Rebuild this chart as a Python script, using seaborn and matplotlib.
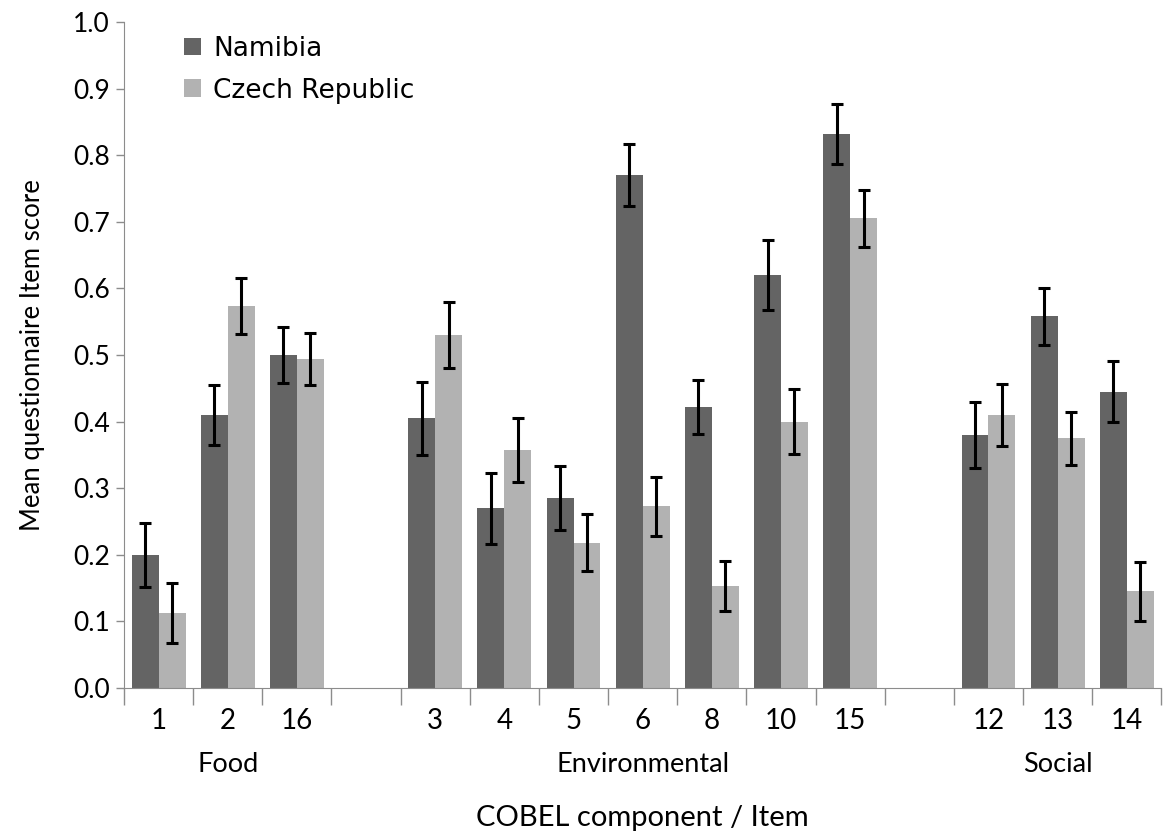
import numpy as np
import pandas as pd
import matplotlib
matplotlib.use("Agg")
import matplotlib.pyplot as plt
import seaborn as sns

# Data
items = ["1", "2", "16", "3", "4", "5", "6", "8", "10", "15", "12", "13", "14"]
groups = ["Food", "Food", "Food",
          "Environmental", "Environmental", "Environmental", "Environmental",
          "Environmental", "Environmental", "Environmental",
          "Social", "Social", "Social"]
namibia = [0.200, 0.410, 0.500, 0.405, 0.270, 0.285, 0.770, 0.422, 0.620, 0.832, 0.380, 0.558, 0.445]
namibia_err = [0.048, 0.045, 0.042, 0.055, 0.053, 0.048, 0.047, 0.040, 0.052, 0.045, 0.050, 0.043, 0.046]
czech = [0.112, 0.573, 0.494, 0.530, 0.357, 0.218, 0.273, 0.153, 0.400, 0.705, 0.410, 0.375, 0.145]
czech_err = [0.045, 0.042, 0.039, 0.050, 0.048, 0.043, 0.044, 0.038, 0.049, 0.043, 0.046, 0.040, 0.045]

countries = ["Namibia", "Czech Republic"]
colors = ["#646464", "#b2b2b2"]

# slot order with empty gaps between components
order = ["1", "2", "16", "gap1", "3", "4", "5", "6", "8", "10", "15", "gap2", "12", "13", "14"]

df = pd.DataFrame({
    "item": items * 2,
    "country": ["Namibia"] * len(items) + ["Czech Republic"] * len(items),
    "score": namibia + czech,
    "err": namibia_err + czech_err,
})

fig = plt.figure(figsize=(11.63, 8.32), dpi=100)
ax = fig.add_axes([0.1066, 0.173, 0.892, 0.8006])

sns.barplot(data=df, x="item", y="score", hue="country", order=order,
            hue_order=countries, palette=colors, width=0.78, errorbar=None,
            saturation=1, ax=ax, legend=True)

# error bars on each bar
for cont, country in zip(ax.containers, countries):
    sub = df[df["country"] == country].set_index("item")
    for bar in cont:
        h = bar.get_height()
        if np.isnan(h):
            continue
        cx = bar.get_x() + bar.get_width() / 2
        slot = int(round(cx))
        item = order[slot]
        ax.errorbar(cx, sub.loc[item, "score"], yerr=sub.loc[item, "err"],
                    fmt="none", ecolor="black", elinewidth=2.2, capsize=4.5,
                    capthick=2.2, zorder=5)

ax.set_xlim(-0.5, 14.5)
ax.set_ylim(0, 1.0)
ax.set_yticks(np.arange(0, 1.01, 0.1))
ax.set_yticklabels([f"{v:.1f}" for v in np.arange(0, 1.01, 0.1)],
                   fontsize=19, family="Lato")

ax.set_xticks(range(len(order)))
ax.set_xticklabels([o if not o.startswith("gap") else "" for o in order],
                   fontsize=20, family="Lato")
ax.set_xticks(np.arange(-0.5, 14.6, 1), minor=True)
ax.tick_params(axis="x", which="major", length=0, pad=14)
ax.tick_params(axis="x", which="minor", length=12, color="#8c8c8c", width=1)
ax.tick_params(axis="y", length=6, color="#8c8c8c", width=1, pad=4)

for side in ["top", "right"]:
    ax.spines[side].set_visible(False)
ax.spines["left"].set_color("#8c8c8c")
ax.spines["bottom"].set_color("#8c8c8c")

ax.set_xlabel("")
ax.set_ylabel("Mean questionnaire Item score", fontsize=18.5, family="Lato", labelpad=20)

# component labels under item numbers
comp_pos = {"Food": 1, "Environmental": 7, "Social": 13}
for name, pos in comp_pos.items():
    ax.text(pos, -0.115, name, ha="center", va="center", fontsize=19.5,
            family="Lato", transform=ax.get_xaxis_transform())
ax.text(7, -0.195, "COBEL component / Item", ha="center", va="center",
        fontsize=21, family="Lato", transform=ax.get_xaxis_transform())

leg = ax.legend(loc="upper left", bbox_to_anchor=(0.035, 1.015), frameon=False,
                fontsize=19, handlelength=0.65, handleheight=0.65,
                handletextpad=0.45, labelspacing=0.6)
for t in leg.get_texts():
    t.set_family("DejaVu Sans")

fig.savefig("out.png", dpi=100)
